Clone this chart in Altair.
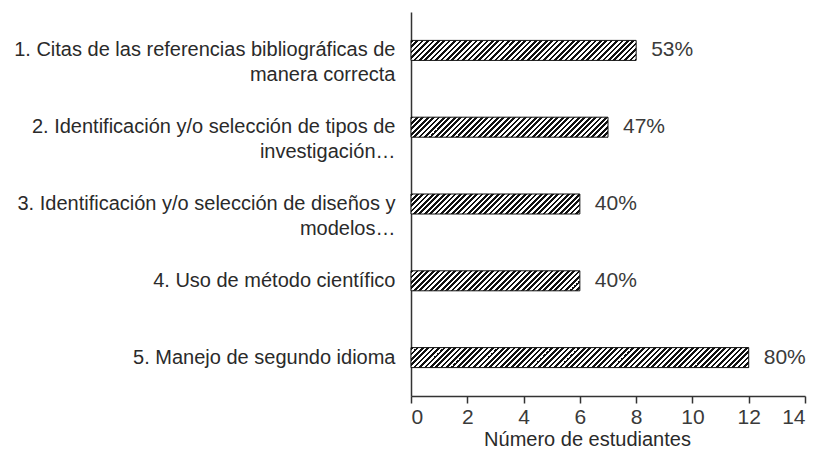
import altair as alt
import pandas as pd

categories = [
    "1. Citas de las referencias bibliográficas de|manera correcta",
    "2. Identificación y/o selección de tipos de|investigación…",
    "3. Identificación y/o selección de diseños y|modelos…",
    "4. Uso de método científico",
    "5. Manejo de segundo idioma",
]
values = [8, 7, 6, 6, 12]
percent_labels = ["53%", "47%", "40%", "40%", "80%"]
x_ticks = [0, 2, 4, 6, 8, 10, 12, 14]

df = pd.DataFrame({"cat": categories, "val": values, "pct": percent_labels,
                   "idx": list(range(len(categories)))})

W, H = 394, 384
X_MAX = 14
BAR_H = 20
PITCH = 5.4
px_per_unit = W / X_MAX
FONT = "Liberation Sans"


def hatch(value):
    w = value * px_per_unit
    h = BAR_H
    L = w + h
    s = L / (w + h * h / w)
    stops = []
    k = 0
    while k * PITCH < L:
        a = k * PITCH / L
        b = min((k + 0.5) * PITCH / L, 1.0)
        c = min((k + 1) * PITCH / L, 1.0)
        stops += [
            alt.GradientStop(offset=a, color="#111111"),
            alt.GradientStop(offset=b, color="#111111"),
            alt.GradientStop(offset=b, color="#ffffff"),
            alt.GradientStop(offset=c, color="#ffffff"),
        ]
        k += 1
    return alt.LinearGradient(gradient="linear", stops=stops,
                              x1=0, y1=0, x2=s, y2=s * h / w)


x_enc = alt.X("val:Q", scale=alt.Scale(domain=[0, X_MAX], nice=False),
              axis=alt.Axis(values=x_ticks, grid=False, title="Número de estudiantes",
                            labelFontSize=21, labelColor="#3a3a3a", labelPadding=3,
                            tickSize=7, tickColor="#333333", tickWidth=1.5,
                            domainColor="#333333", domainWidth=1.5,
                            titleFontSize=20, titleFontWeight="normal",
                            titleColor="#2a2a2a", titlePadding=2, titleX=176,
                            labelFont=FONT, titleFont=FONT))
y_enc = alt.Y("cat:N", sort=categories,
              axis=alt.Axis(title=None, ticks=False, domainColor="#333333", domainWidth=1.5,
                            labelExpr="split(datum.label, '|')", labelFontSize=20,
                            labelLineHeight=25, labelColor="#2a2a2a", labelPadding=16,
                            labelFont=FONT, labelLimit=600))

base = alt.Chart(df)
layers = []
for i, v in enumerate(values):
    layers.append(
        base.transform_filter(alt.datum.idx == i)
        .mark_bar(fill=hatch(v), stroke="#111111", strokeWidth=1, size=BAR_H)
        .encode(x=x_enc, y=y_enc)
    )

text = base.mark_text(align="left", baseline="middle", dx=15, fontSize=21,
                      color="#3a3a3a", font=FONT).encode(
    x=alt.X("val:Q"), y=alt.Y("cat:N", sort=categories), text="pct:N")

chart = alt.layer(*layers, text).properties(
    width=W, height=H,
    background="white",
    autosize=alt.AutoSizeParams(type="none"),
    padding={"left": 403, "top": 4, "right": 11, "bottom": 55},
).configure_view(stroke=None)

chart.save("out.html", embed_options={"renderer": "svg", "actions": False})
